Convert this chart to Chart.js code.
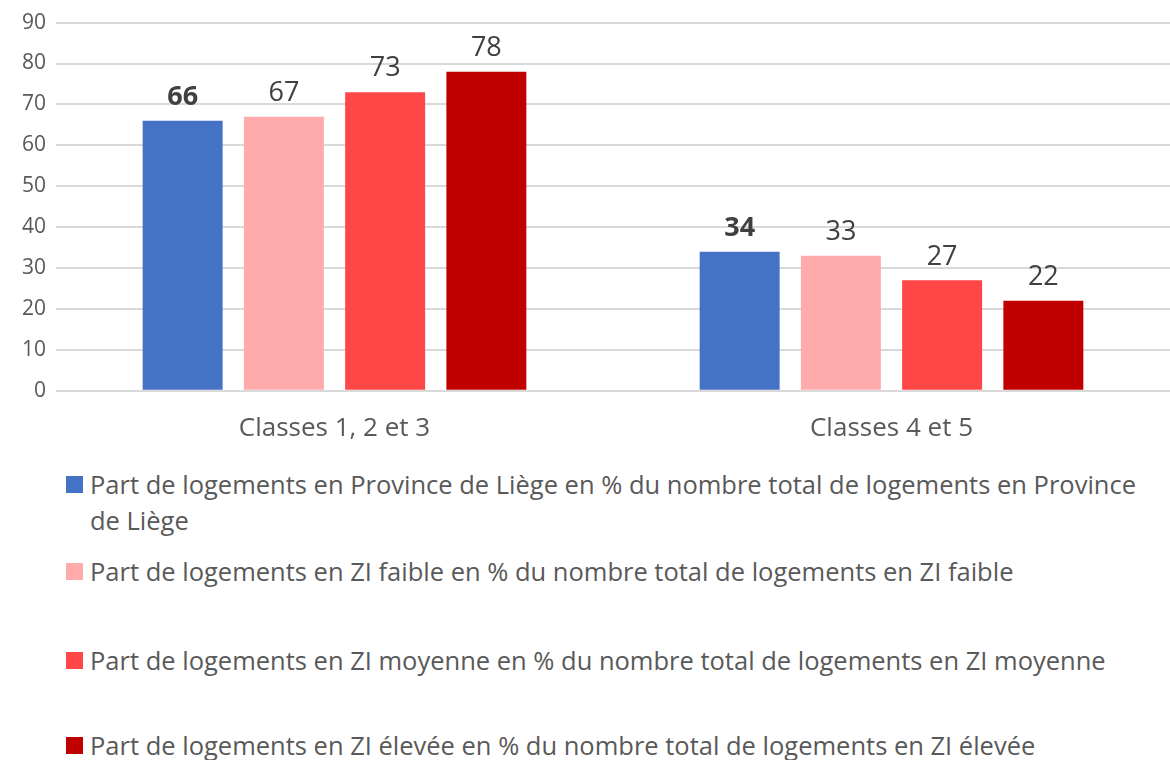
<!DOCTYPE html>
<html>
<head>
<meta charset="utf-8">
<script src="https://cdn.jsdelivr.net/npm/chart.js@4"></script>
<style>
  body{margin:0;background:#fff;font-family:"Open Sans",sans-serif;}
  #wrap{position:relative;width:1170px;height:760px;}
  #chartBox{position:absolute;left:0;top:0;width:1170px;height:458px;}
  #legend{position:absolute;left:66px;top:466px;width:1090px;}
  .item{display:flex;align-items:flex-start;color:#595959;font-size:25.5px;line-height:36px;}
  .sw{width:17px;height:17px;flex:none;margin:10px 7px 0 0;}
</style>
</head>
<body>
<div id="wrap">
  <div id="chartBox"><canvas id="c"></canvas></div>
  <div id="legend"></div>
</div>
<script>
const categories=['Classes 1, 2 et 3','Classes 4 et 5'];
const seriesNames=[
  'Part de logements en Province de Liège en % du nombre total de logements en Province de Liège',
  'Part de logements en ZI faible en % du nombre total de logements en ZI faible',
  'Part de logements en ZI moyenne en % du nombre total de logements en ZI moyenne',
  'Part de logements en ZI élevée en % du nombre total de logements en ZI élevée'
];
const province=[66,34];
const ziFaible=[67,33];
const ziMoyenne=[73,27];
const ziElevee=[78,22];
const colors=['#4472C4','#FFABAB','#FF4747','#C00000'];
const legendSlots=[87,89,85,40];

// data labels above bars, first series in bold
const labelPlugin={
  id:'barLabels',
  afterDatasetsDraw(chart){
    const ctx=chart.ctx;
    chart.data.datasets.forEach((ds,i)=>{
      chart.getDatasetMeta(i).data.forEach((bar,j)=>{
        ctx.save();
        ctx.font=(i===0?'bold ':'')+'27px "Open Sans"';
        ctx.fillStyle='#404040';
        ctx.textAlign='center';
        ctx.textBaseline='bottom';
        ctx.fillText(ds.data[j],bar.x,bar.y-10);
        ctx.restore();
      });
    });
  }
};

const series=[province,ziFaible,ziMoyenne,ziElevee];
new Chart(document.getElementById('c'),{
  type:'bar',
  data:{labels:categories,datasets:series.map((d,i)=>({label:seriesNames[i],data:d,backgroundColor:colors[i],categoryPercentage:0.727,barPercentage:0.79}))},
  options:{
    responsive:true,maintainAspectRatio:false,animation:false,
    layout:{padding:{top:4,right:0,left:12}},
    plugins:{legend:{display:false},tooltip:{enabled:false}},
    scales:{
      x:{grid:{display:false},border:{display:false},ticks:{color:'#595959',font:{family:'Open Sans',size:26},padding:14}},
      y:{min:0,max:90,ticks:{stepSize:10,color:'#595959',font:{family:'Open Sans',size:21},padding:10},
         grid:{color:'#D9D9D9',lineWidth:2,drawTicks:false},border:{display:false}}
    }
  },
  plugins:[labelPlugin]
});

const lg=document.getElementById('legend');
seriesNames.forEach((n,i)=>{
  const d=document.createElement('div');
  d.className='item';
  d.style.height=legendSlots[i]+'px';
  d.innerHTML='<span class="sw" style="background:'+colors[i]+'"></span><span>'+n+'</span>';
  lg.appendChild(d);
});
</script>
</body>
</html>
